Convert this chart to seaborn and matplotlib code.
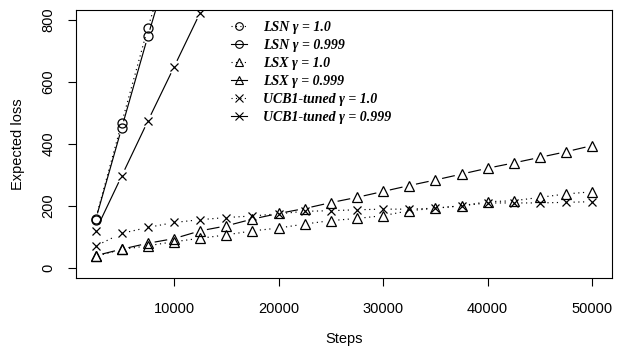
import numpy as np
import pandas as pd
import matplotlib
matplotlib.use('Agg')
import matplotlib.pyplot as plt
from matplotlib.lines import Line2D
import seaborn as sns

# ---------------------------------------------------------
# dados
# ---------------------------------------------------------
steps = [2500, 5000, 7500, 10000, 12500, 15000, 17500, 20000, 22500, 25000,
         27500, 30000, 32500, 35000, 37500, 40000, 42500, 45000, 47500, 50000]

lsn_1 = [158, 468, 774, 1050]
lsn_0999 = [155, 452, 747, 1030]
lsx_1 = [38, 60, 72, 85, 96, 107, 120, 129, 142, 153,
         160, 169, 185, 193, 201, 214, 217, 228, 239, 246]
lsx_0999 = [40, 61, 80, 95, 120, 136, 158, 176, 192, 211,
            228, 247, 266, 284, 303, 322, 339, 357, 375, 395]
ucb_1 = [71, 112, 131, 147, 156, 163, 168, 175, 183, 185,
         188, 190, 190, 193, 201, 210, 210, 210, 212, 214]
ucb_0999 = [120, 297, 474, 648, 823, 1000]

labels = ["LSN γ = 1.0", "LSN γ = 0.999", "LSX γ = 1.0",
          "LSX γ = 0.999", "UCB1-tuned γ = 1.0", "UCB1-tuned γ = 0.999"]

series = [
    (labels[0], lsn_1, 'o', 'dotted'),
    (labels[1], lsn_0999, 'o', 'solid'),
    (labels[2], lsx_1, '^', 'dotted'),
    (labels[3], lsx_0999, '^', 'solid'),
    (labels[4], ucb_1, 'x', 'dotted'),
    (labels[5], ucb_0999, 'x', 'solid'),
]

linhas = {'dotted': (0, (1, 3)), 'solid': '-'}

plt.rcParams['font.family'] = ['Liberation Sans', 'DejaVu Sans']

fig = plt.figure(figsize=(6.17, 3.52), dpi=100)
ax = fig.add_axes([0.1227, 0.2102, 0.8693, 0.7614])
ax.set_xlim(600, 51900)
ax.set_ylim(-32, 832)


def linha_com_gap(ax, xs, ys, gap_px, **kw):
    # imita o type="b" do R: segmentos encurtados perto dos pontos
    pts = ax.transData.transform(np.column_stack([xs, ys]))
    inv = ax.transData.inverted()
    sx, sy = [], []
    for p0, p1 in zip(pts[:-1], pts[1:]):
        d = p1 - p0
        L = np.hypot(*d)
        if L <= 2 * gap_px:
            continue
        u = d / L
        a, b = inv.transform([p0 + u * gap_px, p1 - u * gap_px])
        sx += [a[0], b[0], np.nan]
        sy += [a[1], b[1], np.nan]
    ax.plot(sx, sy, color='black', **kw)


for nome, vals, mk, ls in series:
    xs = steps[:len(vals)]
    linha_com_gap(ax, xs, vals, 7.5, lw=0.85, linestyle=linhas[ls])

for nome, vals, mk, ls in series:
    df = pd.DataFrame({'Steps': steps[:len(vals)], 'loss': vals})
    sns.lineplot(data=df, x='Steps', y='loss', ax=ax, marker=mk, linestyle='',
                 color='black', markerfacecolor='none', markeredgecolor='black',
                 markeredgewidth=0.9, markersize=6.5 if mk != 'x' else 6,
                 legend=False)

# eixos no estilo do R
for s in ax.spines.values():
    s.set_linewidth(0.8)
    s.set_color('black')
ax.set_xticks([10000, 20000, 30000, 40000, 50000])
ax.set_yticks([0, 200, 400, 600, 800])
ax.set_yticklabels(['0', '200', '400', '600', '800'], rotation=90, va='center')
ax.tick_params(axis='both', direction='out', length=5.5, width=0.8,
               labelsize=10.5, colors='black')
ax.tick_params(axis='x', pad=12)
ax.tick_params(axis='y', pad=9)
ax.set_xlabel('Steps', fontsize=10.5, labelpad=11)
ax.set_ylabel('Expected loss', fontsize=10.5, labelpad=12)

handles = []
for nome, vals, mk, ls in series:
    handles.append(Line2D([], [], color='black', lw=0.8, linestyle=linhas[ls],
                          marker=mk, markerfacecolor='none', markersize=5.5,
                          markeredgewidth=0.8))
ax.legend(handles, labels, loc='upper left', bbox_to_anchor=(0.2775, 0.985),
          frameon=False, handlelength=1.15, handletextpad=1.1, labelspacing=0.36,
          borderpad=0, prop={'family': 'Liberation Serif', 'weight': 'bold',
                             'style': 'italic', 'size': 10})

fig.savefig('out.png', dpi=100)
